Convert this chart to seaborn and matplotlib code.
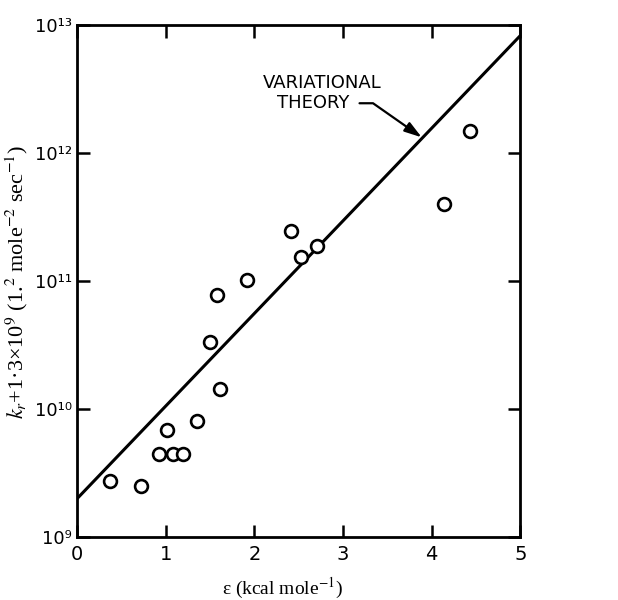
import matplotlib
matplotlib.use("Agg")
import matplotlib.pyplot as plt
import matplotlib.ticker as mticker
import pandas as pd
import seaborn as sns

# Data
eps_obs = [0.37, 0.72, 0.92, 1.08, 1.19, 1.01, 1.35, 1.50, 1.61, 1.58,
           1.92, 2.41, 2.53, 2.70, 4.14, 4.43]
k_obs = [2.74e9, 2.5e9, 4.45e9, 4.45e9, 4.45e9, 6.85e9, 8.1e9, 3.32e10,
         1.43e10, 7.8e10, 1.02e11, 2.47e11, 1.55e11, 1.88e11, 4.0e11, 1.48e12]

eps_theory = [0.0, 5.0]
k_theory = [2.0e9, 8.3e12]

x_ticks = [0, 1, 2, 3, 4, 5]
y_ticks = [1e9, 1e10, 1e11, 1e12, 1e13]
y_tick_labels = ["10⁹", "10¹⁰", "10¹¹", "10¹²", "10¹³"]

sns.set_style("ticks")
plt.rcParams["font.family"] = ["DejaVu Sans"]
plt.rcParams["mathtext.fontset"] = "stix"
plt.rcParams["xtick.color"] = "black"
plt.rcParams["ytick.color"] = "black"
plt.rcParams["axes.edgecolor"] = "black"
plt.rcParams["text.color"] = "black"

obs = pd.DataFrame({"eps": eps_obs, "k": k_obs})
theory = pd.DataFrame({"eps": eps_theory, "k": k_theory})

fig = plt.figure(figsize=(6.18, 6.0), dpi=100)
ax = fig.add_axes([0.125, 0.105, 0.717, 0.853])

sns.lineplot(data=theory, x="eps", y="k", ax=ax, color="black", linewidth=2.2)
sns.scatterplot(data=obs, x="eps", y="k", ax=ax, marker="o", s=85,
                facecolor="white", edgecolor="black", linewidth=1.9, zorder=3)

ax.set_yscale("log")
ax.set_xlim(0, 5)
ax.set_ylim(1e9, 1e13)
ax.set_xticks(x_ticks)
ax.set_xticklabels([str(t) for t in x_ticks])
ax.yaxis.set_major_locator(mticker.FixedLocator(y_ticks))
ax.yaxis.set_major_formatter(mticker.FixedFormatter(y_tick_labels))
ax.yaxis.set_minor_locator(mticker.NullLocator())
ax.tick_params(which="major", direction="in", length=9, width=1.8,
               top=True, right=True, colors="black", labelcolor="black")
ax.tick_params(axis="x", labelsize=14, pad=6)
ax.tick_params(axis="y", labelsize=13, pad=4)
for spine in ax.spines.values():
    spine.set_linewidth(2.0)
    spine.set_visible(True)

ax.set_xlabel("")
ax.set_ylabel("")
fig.text(283 / 618, 1 - 588 / 600, "ε (kcal mole$^{-1}$)", ha="center", va="center",
         fontsize=14, family="Liberation Serif")
fig.text(17 / 618, 1 - 282 / 600,
         r"$k_r$+1·3×10$^{9}$ (1.$^{2}$ mole$^{-2}$ sec$^{-1}$)",
         ha="center", va="center", rotation=90, fontsize=16, family="Liberation Serif")

# Label with arrow pointing at the theory line
ax.text(2.77, 10 ** 12.55, "VARIATIONAL", ha="center", va="center",
        fontsize=13, family="DejaVu Sans Condensed")
ax.annotate("THEORY", xy=(3.90, 1.31e12), xytext=(3.07, 10 ** 12.39),
            ha="right", va="center", fontsize=13, family="DejaVu Sans Condensed",
            arrowprops=dict(arrowstyle="-|>,head_length=0.8,head_width=0.25",
                            connectionstyle="angle,angleA=0,angleB=-35,rad=0",
                            color="black", linewidth=1.6, relpos=(1, 0.5),
                            shrinkA=5, shrinkB=1))

fig.savefig("out.png", dpi=100, facecolor="white")
